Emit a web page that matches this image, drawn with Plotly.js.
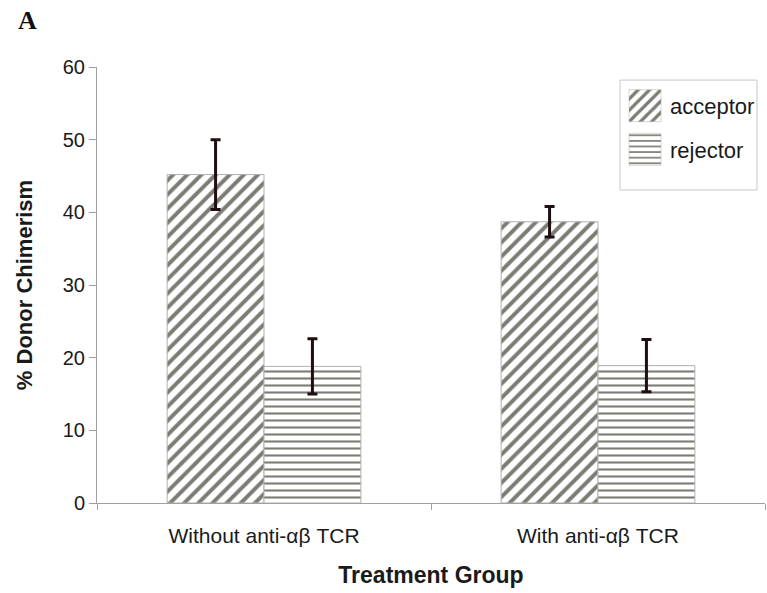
<!DOCTYPE html>
<html>
<head>
<meta charset="utf-8">
<script src="https://cdn.plot.ly/plotly-3.0.1.min.js"></script>
<style>body{margin:0;background:#fff}#chart{width:767px;height:593px}</style>
</head>
<body>
<div id="chart"></div>
<script>
const categories = ["Without anti-\u03b1\u03b2 TCR", "With anti-\u03b1\u03b2 TCR"];
const acceptorValues = [45.2, 38.7];
const acceptorErrors = [4.8, 2.1];
const rejectorValues = [18.8, 18.9];
const rejectorErrors = [3.8, 3.6];
const yTicks = [0, 10, 20, 30, 40, 50, 60];

const errStyle = {type: 'data', visible: true, color: '#1e1010', thickness: 3, width: 5};
const font = 'Arial, "Liberation Sans", sans-serif';

const traces = [
  {
    type: 'bar', name: 'acceptor', legendgroup: 'a', x: categories, y: acceptorValues,
    error_y: Object.assign({array: acceptorErrors}, errStyle),
    marker: {color: '#ffffff', line: {color: '#b0b0b0', width: 1},
      pattern: {shape: '/', fgcolor: '#7c7c74', bgcolor: '#ffffff', size: 10, solidity: 0.4}}
  },
  {
    type: 'bar', name: 'rejector', legendgroup: 'r', x: categories, y: rejectorValues,
    error_y: Object.assign({array: rejectorErrors}, errStyle),
    marker: {color: '#ffffff', line: {color: '#b0b0b0', width: 1},
      pattern: {shape: '-', fgcolor: '#7c7c74', bgcolor: '#ffffff', size: 7, solidity: 0.3}}
  }
];

const layout = {
  width: 767, height: 593,
  margin: {l: 97, r: 2, t: 67, b: 90},
  paper_bgcolor: '#ffffff', plot_bgcolor: '#ffffff',
  barmode: 'group', bargap: 0.42, bargroupgap: 0,
  font: {family: font, color: '#1a1a1a'},
  showlegend: true,
  legend: {x: 0.783, y: 0.959, xanchor: 'left', yanchor: 'top',
    borderwidth: 0, bgcolor: 'rgba(0,0,0,0)',
    font: {size: 22, family: font, color: '#1a1a1a'}, itemwidth: 40,
    traceorder: 'grouped', tracegroupgap: 12},
  shapes: [{
    type: 'rect', xref: 'paper', yref: 'paper', x0: 0.783, x1: 0.988, y0: 0.718, y1: 0.970,
    line: {color: '#c8c8c8', width: 1}, fillcolor: 'rgba(0,0,0,0)', layer: 'above'
  }],
  xaxis: {
    type: 'category', showline: true, linecolor: '#a0a0a0', linewidth: 1,
    ticks: 'outside', tickson: 'boundaries', ticklen: 6, tickcolor: '#a0a0a0',
    tickfont: {size: 21, family: font, color: '#1a1a1a'}, ticklabelstandoff: 14,
    showgrid: false, zeroline: false,
    title: {text: '<b>Treatment Group</b>', font: {size: 23, family: font, color: '#1a1a1a'}, standoff: 20}
  },
  yaxis: {
    range: [0, 60], tickvals: yTicks, showline: true, linecolor: '#a0a0a0', linewidth: 1,
    ticks: 'outside', ticklen: 7, tickcolor: '#a0a0a0',
    tickfont: {size: 20, family: font, color: '#1a1a1a'},
    showgrid: false, zeroline: false,
    title: {text: '<b>% Donor Chimerism</b>', font: {size: 22, family: font, color: '#1a1a1a'}, standoff: 24}
  },
  annotations: [{
    text: '<b>A</b>', xref: 'paper', yref: 'paper', x: -0.121, y: 1.145,
    xanchor: 'left', yanchor: 'top', showarrow: false,
    font: {size: 26, family: '"Liberation Serif", "Times New Roman", serif', color: '#111111'}
  }]
};

Plotly.newPlot('chart', traces, layout, {displayModeBar: false, staticPlot: true}).then(function (gd) {
  const bg = gd.querySelector('g.legend rect.bg');
  const boxLeft = bg ? bg.getBoundingClientRect().left : 620;
  gd.querySelectorAll('g.legend [clip-path]').forEach(function (c) { c.removeAttribute('clip-path'); });
  gd.querySelectorAll('g.legend g.legendpoints path').forEach(function (p) {
    p.setAttribute('d', 'M16,16H-16V-16H16Z');
    p.style.strokeWidth = '0.5px';
    p.removeAttribute('transform');
    const r = p.getBoundingClientRect();
    const cx = r.left + r.width / 2;
    const want = boxLeft + 25;
    p.setAttribute('transform', 'translate(' + (want - cx) + ',0)');
  });
});
</script>
</body>
</html>
